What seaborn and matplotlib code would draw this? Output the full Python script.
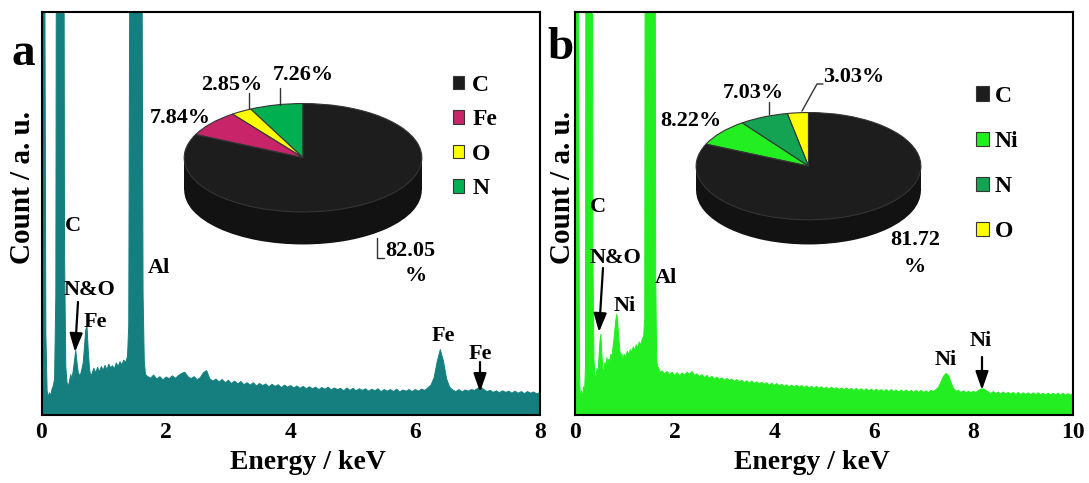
import matplotlib
matplotlib.use("Agg")
import matplotlib.pyplot as plt
from matplotlib.patches import Rectangle
import numpy as np
import pandas as pd
import seaborn as sns

# ---------------- data ----------------
ENERGY_A = [0.00, 0.05, 0.07, 0.09, 0.11, 0.13, 0.15, 0.17, 0.19, 0.21,
            0.23, 0.24, 0.36, 0.37, 0.39, 0.41, 0.43, 0.45, 0.47, 0.49,
            0.51, 0.53, 0.55, 0.57, 0.59, 0.61, 0.63, 0.65, 0.67, 0.69,
            0.71, 0.73, 0.75, 0.77, 0.79, 0.81, 0.84, 0.87, 0.90, 0.93,
            0.96, 0.99, 1.02, 1.05, 1.08, 1.11, 1.14, 1.17, 1.20, 1.23,
            1.26, 1.29, 1.32, 1.35, 1.38, 1.40, 1.42, 1.61, 1.63, 1.65, 1.67,
            1.70, 1.75, 1.80, 1.85, 1.90, 1.95, 2.00, 2.05, 2.10, 2.15,
            2.20, 2.25, 2.30, 2.35, 2.40, 2.45, 2.50, 2.55, 2.60, 2.65,
            2.70, 2.75, 2.80, 2.85, 2.90, 2.95, 3.00, 3.05, 3.10, 3.15,
            3.20, 3.25, 3.30, 3.35, 3.40, 3.45, 3.50, 3.55, 3.60, 3.65,
            3.70, 3.75, 3.80, 3.85, 3.90, 3.95, 4.00, 4.05, 4.10, 4.15,
            4.20, 4.25, 4.30, 4.35, 4.40, 4.45, 4.50, 4.55, 4.60, 4.65,
            4.70, 4.75, 4.80, 4.85, 4.90, 4.95, 5.00, 5.05, 5.10, 5.15,
            5.20, 5.25, 5.30, 5.35, 5.40, 5.45, 5.50, 5.55, 5.60, 5.65,
            5.70, 5.75, 5.80, 5.85, 5.90, 5.95, 6.00, 6.05, 6.10, 6.15,
            6.20, 6.25, 6.30, 6.35, 6.40, 6.45, 6.50, 6.55, 6.60, 6.65,
            6.70, 6.75, 6.80, 6.85, 6.90, 6.95, 7.00, 7.05, 7.10, 7.15,
            7.20, 7.25, 7.30, 7.35, 7.40, 7.45, 7.50, 7.55, 7.60, 7.65,
            7.70, 7.75, 7.80, 7.85, 7.90, 7.95, 8.00]
COUNT_A = [130, 130, 20, 6, 4.5, 5.5, 4.8, 6.5, 7.2, 9,
           30, 130, 130, 40, 12, 8, 7, 8.5, 10, 9,
           11, 13.5, 16, 13, 10.5, 9.8, 10.2, 11.5, 13, 17,
           21, 22, 16, 11.5, 9.6, 10.2, 11.6, 10.4, 11.8, 10.7,
           12.0, 11.1, 12.3, 11.2, 12.6, 11.7, 12.2, 11.4, 12.9, 12.0,
           13.2, 12.4, 13.6, 13.0, 14.5, 22, 130, 130, 30, 13, 10,
           9.6, 9.1, 9.9, 8.9, 9.5, 8.7, 9.4, 9.0, 9.7, 9.1,
           9.8, 10.3, 10.6, 9.5, 9.0, 9.5, 8.7, 9.3, 10.5, 11.0,
           9.0, 8.4, 8.9, 8.2, 8.8, 8.0, 8.6, 7.8, 8.4, 7.7,
           8.3, 7.5, 8.0, 7.4, 8.0, 7.2, 7.8, 7.3, 7.7, 7.0,
           7.6, 7.1, 7.5, 6.8, 7.4, 6.9, 7.3, 6.7, 7.2, 6.6,
           7.1, 6.5, 7.0, 6.5, 6.9, 6.3, 6.8, 6.4, 6.9, 6.2,
           6.7, 6.3, 6.6, 6.0, 6.7, 6.1, 6.6, 6.0, 6.5, 6.1,
           6.5, 5.9, 6.4, 6.0, 6.5, 5.8, 6.3, 5.9, 6.3, 5.8,
           6.4, 5.7, 6.2, 5.9, 6.3, 5.8, 6.3, 5.9, 6.4, 6.1,
           6.7, 7.4, 9.2, 13.2, 16.2, 13.4, 9.0, 6.9, 6.2, 5.8,
           6.3, 5.7, 6.2, 5.9, 6.3, 6.1, 6.6, 6.9, 6.3, 5.8,
           6.1, 5.6, 6.0, 5.5, 6.0, 5.6, 5.9, 5.4, 5.9, 5.4,
           5.8, 5.3, 5.8, 5.4, 5.7, 5.2, 5.6]

ENERGY_B = [0.00, 0.07, 0.09, 0.11, 0.13, 0.15, 0.17, 0.19, 0.21, 0.22,
            0.35, 0.36, 0.38, 0.40, 0.42, 0.44, 0.46, 0.48, 0.50, 0.52,
            0.54, 0.56, 0.58, 0.60, 0.62, 0.64, 0.66, 0.68, 0.70, 0.72,
            0.74, 0.76, 0.78, 0.80, 0.82, 0.84, 0.86, 0.88, 0.90, 0.92,
            0.94, 0.96, 0.99, 1.02, 1.05, 1.08, 1.11, 1.14, 1.17, 1.20,
            1.23, 1.26, 1.29, 1.32, 1.35, 1.38, 1.40, 1.41, 1.61, 1.62,
            1.64, 1.66, 1.68, 1.70,
            1.75, 1.80, 1.85, 1.90, 1.95, 2.00, 2.05, 2.10, 2.15, 2.20,
            2.25, 2.30, 2.35, 2.40, 2.45, 2.50, 2.55, 2.60, 2.65, 2.70,
            2.75, 2.80, 2.85, 2.90, 2.95, 3.00, 3.05, 3.10, 3.15, 3.20,
            3.25, 3.30, 3.35, 3.40, 3.45, 3.50, 3.55, 3.60, 3.65, 3.70,
            3.75, 3.80, 3.85, 3.90, 3.95, 4.00, 4.05, 4.10, 4.15, 4.20,
            4.25, 4.30, 4.35, 4.40, 4.45, 4.50, 4.55, 4.60, 4.65, 4.70,
            4.75, 4.80, 4.85, 4.90, 4.95, 5.00, 5.05, 5.10, 5.15, 5.20,
            5.25, 5.30, 5.35, 5.40, 5.45, 5.50, 5.55, 5.60, 5.65, 5.70,
            5.75, 5.80, 5.85, 5.90, 5.95, 6.00, 6.05, 6.10, 6.15, 6.20,
            6.25, 6.30, 6.35, 6.40, 6.45, 6.50, 6.55, 6.60, 6.65, 6.70,
            6.75, 6.80, 6.85, 6.90, 6.95, 7.00, 7.05, 7.10, 7.15, 7.20,
            7.25, 7.30, 7.35, 7.40, 7.45, 7.50, 7.55, 7.60, 7.65, 7.70,
            7.75, 7.80, 7.85, 7.90, 7.95, 8.00, 8.05, 8.10, 8.15, 8.20,
            8.25, 8.30, 8.35, 8.40, 8.45, 8.50, 8.55, 8.60, 8.65, 8.70,
            8.75, 8.80, 8.85, 8.90, 8.95, 9.00, 9.05, 9.10, 9.15, 9.20,
            9.25, 9.30, 9.35, 9.40, 9.45, 9.50, 9.55, 9.60, 9.65, 9.70,
            9.75, 9.80, 9.85, 9.90, 9.95, 10.00]
COUNT_B = [130, 130, 10, 3.5, 6, 4, 7, 5, 12, 130,
           130, 40, 14, 10, 9, 11.5, 10, 14, 18, 20,
           15, 11.5, 10.8, 13, 12, 14.2, 12.8, 13.8, 13.2, 15,
           14.2, 16.5, 18.5, 21, 23.5, 25, 22.5, 19, 16, 14.5,
           15.2, 13.8, 15.0, 14.2, 15.8, 14.9, 16.2, 15.4, 16.9, 16.0,
           17.4, 16.6, 18.1, 17.3, 18.8, 19.5, 24, 130, 130, 35,
           14, 11.5, 11.8, 10.6,
           10.9, 10.2, 10.8, 10.0, 10.6, 9.8, 10.5, 9.7, 10.4, 9.9,
           10.6, 10.1, 10.8, 9.8, 10.2, 9.5, 10.0, 9.3, 9.8, 9.1,
           9.6, 8.9, 9.4, 8.8, 9.2, 8.6, 9.1, 8.5, 8.9, 8.3,
           8.8, 8.2, 8.6, 8.0, 8.5, 7.9, 8.4, 7.8, 8.2, 7.7,
           8.1, 7.6, 8.0, 7.4, 7.9, 7.3, 7.8, 7.2, 7.6, 7.1,
           7.5, 7.0, 7.4, 6.9, 7.4, 6.9, 7.3, 6.8, 7.2, 6.7,
           7.1, 6.6, 7.1, 6.6, 7.0, 6.5, 6.9, 6.4, 6.9, 6.4,
           6.8, 6.3, 6.7, 6.2, 6.7, 6.2, 6.6, 6.1, 6.6, 6.1,
           6.5, 6.0, 6.5, 6.0, 6.4, 5.9, 6.4, 5.9, 6.3, 5.8,
           6.3, 5.8, 6.3, 5.8, 6.2, 5.7, 6.2, 5.7, 6.2, 5.7,
           6.1, 5.6, 6.1, 5.6, 6.1, 5.6, 6.0, 5.6, 6.1, 5.8,
           6.3, 6.9, 8.2, 9.6, 10.3, 9.8, 8.1, 6.6, 5.9, 6.1,
           5.6, 6.0, 5.5, 5.9, 5.5, 5.9, 5.6, 6.1, 6.4, 6.5,
           6.1, 5.7, 5.3, 5.8, 5.3, 5.7, 5.2, 5.7, 5.2, 5.6,
           5.2, 5.6, 5.1, 5.6, 5.1, 5.5, 5.1, 5.5, 5.0, 5.5,
           5.0, 5.5, 5.0, 5.4, 5.0, 5.4, 5.0, 5.4, 5.0, 5.4,
           4.9, 5.4, 4.9, 5.3, 4.9, 5.3]

XTICKS_A = [0, 2, 4, 6, 8]
XTICKS_B = [0, 2, 4, 6, 8, 10]

PIE_A_ELEMENTS = ["N", "O", "Fe", "C"]
PIE_A_VALUES = [7.26, 2.85, 7.84, 82.05]
LEGEND_A_ORDER = ["C", "Fe", "O", "N"]

PIE_B_ELEMENTS = ["O", "N", "Ni", "C"]
PIE_B_VALUES = [3.03, 7.03, 8.22, 81.72]
LEGEND_B_ORDER = ["C", "Ni", "N", "O"]

PEAKS_A = ["C", "Al", "N&O", "Fe", "Fe", "Fe"]
PEAKS_B = ["C", "N&O", "Ni", "Al", "Ni", "Ni"]

# ---------------- style ----------------
COLOR_A = "#157f80"
COLOR_B = "#22ee22"
PIE_A_COLORS = {"C": "#1d1d1d", "Fe": "#c8246a", "O": "#ffff00", "N": "#00b050"}
PIE_B_COLORS = {"C": "#1d1d1d", "Ni": "#22ee22", "N": "#14a352", "O": "#ffff00"}

sns.set_theme(style="white")
plt.rcParams["font.family"] = ["Liberation Serif", "DejaVu Serif"]
plt.rcParams["font.weight"] = "bold"
plt.rcParams["axes.labelweight"] = "bold"
plt.rcParams["text.color"] = "black"
plt.rcParams["axes.labelcolor"] = "black"
plt.rcParams["xtick.color"] = "black"
plt.rcParams["ytick.color"] = "black"

W, H = 1089, 483
fig = plt.figure(figsize=(W / 100, H / 100), dpi=100)


def box(x0, y0, x1, y1):
    return [x0 / W, 1 - y1 / H, (x1 - x0) / W, (y1 - y0) / H]


ov = fig.add_axes([0, 0, 1, 1], zorder=10)
ov.set_xlim(0, W)
ov.set_ylim(H, 0)
ov.axis("off")
ov.patch.set_alpha(0)


def spectrum(rect, energy, count, color, xmax, ticks, xlabel_x):
    ax = fig.add_axes(box(*rect))
    df = pd.DataFrame({"Energy": energy, "Count": count})
    ax.fill_between(df["Energy"], 0, df["Count"], color=color, lw=0)
    sns.lineplot(data=df, x="Energy", y="Count", ax=ax, color=color,
                 lw=0.7, sort=False)
    ax.set_xlim(0, xmax)
    ax.set_ylim(0, 100)
    ax.set_xticks(ticks)
    ax.set_xticklabels([str(t) for t in ticks])
    ax.set_yticks([])
    ax.set_ylabel("")
    ax.tick_params(axis="x", length=0, labelsize=17, pad=5,
                   labelcolor="black")
    ax.set_xlabel("Energy / keV", fontsize=20, fontweight="bold",
                  color="black")
    ax.xaxis.label.set_va("center")
    ax.xaxis.set_label_coords(xlabel_x, -0.117)
    for s in ax.spines.values():
        s.set_color("black")
        s.set_linewidth(1.5)
    return ax


axA = spectrum((41.5, 11.5, 540, 415), ENERGY_A, COUNT_A, COLOR_A, 8,
               XTICKS_A, 0.534)
axB = spectrum((575, 11.5, 1073, 415), ENERGY_B, COUNT_B, COLOR_B, 10,
               XTICKS_B, 0.476)


def pie3d(rect, values, colors, T):
    pax = fig.add_axes(box(*rect))
    side = "#121212"
    pax.pie([sum(values)], colors=[side], center=(0, -T), startangle=90,
            wedgeprops=dict(linewidth=0))
    pax.add_patch(Rectangle((-1, -T), 2, T, facecolor=side, lw=0))
    wedges, _ = pax.pie(values, colors=colors, startangle=90,
                        counterclock=True,
                        wedgeprops=dict(edgecolor="#353535", linewidth=0.8))
    pax.set_aspect("auto")
    pax.set_xlim(-1.01, 1.01)
    pax.set_ylim(-1 - T - 0.01, 1.01)
    pax.axis("off")
    return wedges


wA = pie3d((183, 103, 423, 245), PIE_A_VALUES,
           [PIE_A_COLORS[e] for e in PIE_A_ELEMENTS], 0.60)
wB = pie3d((695, 112, 922, 245), PIE_B_VALUES,
           [PIE_B_COLORS[e] for e in PIE_B_ELEMENTS], 0.46)

# legends
hA = dict(zip(PIE_A_ELEMENTS, wA))
legA = axA.legend([hA[k] for k in LEGEND_A_ORDER], LEGEND_A_ORDER,
                  loc="upper left", bbox_to_anchor=(453, 75),
                  bbox_transform=ov.transData, frameon=False,
                  prop=dict(size=17, weight="bold"), handlelength=0.48,
                  handleheight=0.48, handletextpad=0.34, labelspacing=0.57,
                  borderpad=0, borderaxespad=0)
hB = dict(zip(PIE_B_ELEMENTS, wB))
legB = axB.legend([hB[k] for k in LEGEND_B_ORDER], LEGEND_B_ORDER,
                  loc="upper left", bbox_to_anchor=(976, 86),
                  bbox_transform=ov.transData, frameon=False,
                  prop=dict(size=17, weight="bold"), handlelength=0.56,
                  handleheight=0.56, handletextpad=0.22, labelspacing=1.02,
                  borderpad=0, borderaxespad=0)
for leg in (legA, legB):
    for t in leg.get_texts():
        t.set_color("black")

# text
tk = dict(ha="center", va="center", fontweight="bold", color="black")
ov.text(23, 54, "a", fontsize=34, **tk)
ov.text(560, 48, "b", fontsize=34, **tk)
ov.text(23, 187, "Count / a. u.", fontsize=21, rotation=90, **tk)
ov.text(563, 187, "Count / a. u.", fontsize=21, rotation=90, **tk)

for lab, (x, y) in zip(PEAKS_A, [(73, 226), (159, 268), (90, 290), (95, 322),
                                 (443, 336), (480, 354)]):
    ov.text(x, y, lab, fontsize=16, **tk)
for lab, (x, y) in zip(PEAKS_B, [(598, 207), (616, 258), (625, 306),
                                 (666, 278), (946, 360), (981, 341)]):
    ov.text(x, y, lab, fontsize=16, **tk)

ap = dict(arrowstyle="-|>,head_length=0.8,head_width=0.28", color="black",
          lw=1.6, shrinkA=0, shrinkB=0, mutation_scale=14)
for tail, tip in [((78, 302), (75, 352)), ((480, 362), (480, 392)),
                  ((603, 268), (599, 332)), ((982, 357), (982, 390))]:
    ov.annotate("", xy=tip, xytext=tail, arrowprops=ap)

# pie labels
pA = dict(zip(PIE_A_ELEMENTS, PIE_A_VALUES))
pB = dict(zip(PIE_B_ELEMENTS, PIE_B_VALUES))
fs = 16
ov.text(303, 75, f"{pA['N']:.2f}%", fontsize=fs, **tk)
ov.text(232, 85, f"{pA['O']:.2f}%", fontsize=fs, **tk)
ov.text(180, 118, f"{pA['Fe']:.2f}%", fontsize=fs, **tk)
ov.text(410, 251, f"{pA['C']:.2f}", fontsize=fs, **tk)
ov.text(416, 276, "%", fontsize=fs, **tk)
ov.plot([280, 280], [88, 105], color="#333333", lw=1)
ov.plot([249, 249], [93, 109], color="#333333", lw=1)
ov.plot([377, 377, 384], [238, 258, 258], color="#333333", lw=1)

ov.text(854, 77, f"{pB['O']:.2f}%", fontsize=fs, **tk)
ov.text(753, 93, f"{pB['N']:.2f}%", fontsize=fs, **tk)
ov.text(691, 121, f"{pB['Ni']:.2f}%", fontsize=fs, **tk)
ov.text(915, 240, f"{pB['C']:.2f}", fontsize=fs, **tk)
ov.text(915, 267, "%", fontsize=fs, **tk)
ov.plot([769, 769], [102, 114], color="#333333", lw=1)
ov.plot([802, 817, 823], [111, 84, 84], color="#333333", lw=1)

fig.savefig("out.png", dpi=100)
